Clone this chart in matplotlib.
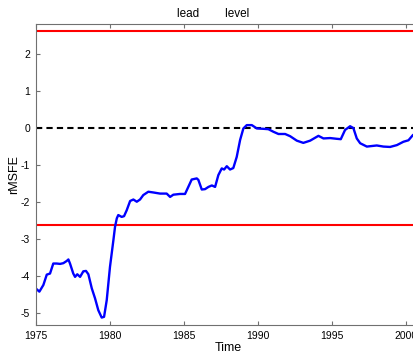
import numpy as np
import matplotlib
matplotlib.use('Agg')
import matplotlib.pyplot as plt

plt.rcParams['font.family'] = ['Liberation Sans', 'DejaVu Sans']
plt.rcParams['axes.unicode_minus'] = False

# relative MSFE over time
years = [1975.01, 1975.26, 1975.53, 1975.76, 1975.98, 1976.20, 1976.43, 1976.66,
         1976.88, 1977.11, 1977.22, 1977.33, 1977.55, 1977.67, 1977.82, 1978.01,
         1978.23, 1978.41, 1978.57, 1978.80, 1979.02, 1979.24, 1979.47, 1979.63,
         1979.81, 1980.03, 1980.26, 1980.37, 1980.49, 1980.59, 1980.82, 1980.98,
         1981.16, 1981.39, 1981.61, 1981.84, 1982.06, 1982.28, 1982.62, 1982.96,
         1983.41, 1983.86, 1984.09, 1984.31, 1984.76, 1985.10, 1985.32, 1985.55,
         1985.89, 1986.00, 1986.23, 1986.45, 1986.68, 1986.91, 1987.13, 1987.35,
         1987.58, 1987.74, 1987.92, 1988.14, 1988.36, 1988.59, 1988.82, 1989.04,
         1989.27, 1989.61, 1989.95, 1990.39, 1990.73, 1991.07, 1991.41, 1991.86,
         1992.20, 1992.65, 1993.09, 1993.55, 1994.11, 1994.45, 1994.90, 1995.35,
         1995.62, 1995.91, 1996.25, 1996.47, 1996.70, 1996.93, 1997.38, 1998.05,
         1998.50, 1998.95, 1999.41, 1999.85, 2000.19, 2000.49, 2000.75]
rmsfe = [-4.33, -4.42, -4.24, -3.96, -3.93, -3.66, -3.66, -3.67,
         -3.65, -3.59, -3.55, -3.66, -3.93, -4.02, -3.95, -4.02,
         -3.87, -3.86, -3.95, -4.33, -4.60, -4.92, -5.12, -5.10,
         -4.65, -3.75, -3.03, -2.67, -2.44, -2.35, -2.40, -2.38,
         -2.22, -1.97, -1.93, -1.99, -1.93, -1.81, -1.72, -1.74,
         -1.77, -1.77, -1.86, -1.80, -1.78, -1.78, -1.59, -1.39,
         -1.36, -1.40, -1.66, -1.65, -1.59, -1.55, -1.59, -1.27,
         -1.09, -1.12, -1.03, -1.12, -1.08, -0.78, -0.32, -0.01,
         0.08, 0.08, -0.01, -0.02, -0.03, -0.10, -0.16, -0.16,
         -0.22, -0.34, -0.40, -0.34, -0.21, -0.28, -0.27, -0.29,
         -0.30, -0.05, 0.05, 0.00, -0.28, -0.41, -0.50, -0.47,
         -0.50, -0.51, -0.46, -0.37, -0.33, -0.19, -0.12]
crit = 2.63

fig = plt.figure(figsize=(4.13, 3.54), dpi=100)
ax = fig.add_axes([0.086, 0.082, 0.932, 0.850])

ax.axhline(crit, color='red', lw=1.5)
ax.axhline(-crit, color='red', lw=1.5)
ax.axhline(0, color='black', lw=1.5, ls=(0, (3, 2)))
ax.plot(years, rmsfe, color='blue', lw=1.7)

ax.set_xlim(1975, 2001)
ax.set_ylim(-5.32, 2.81)
ax.set_xticks([1975, 1980, 1985, 1990, 1995, 2000])
ax.set_yticks([-5, -4, -3, -2, -1, 0, 1, 2])
ax.tick_params(direction='in', length=3, labelsize=7.5, color='#707070',
               top=True, right=True, pad=4)
for s in ax.spines.values():
    s.set_color('#707070')
ax.set_xlabel('Time', fontsize=9, labelpad=1)
ax.set_ylabel('rMSFE', fontsize=9)
ax.yaxis.set_label_coords(-0.04, 0.5)
fig.text(213 / 413, 1 - 14 / 354, 'lead        level', ha='center', va='center', fontsize=8.5)

fig.savefig('out.png', dpi=100)
